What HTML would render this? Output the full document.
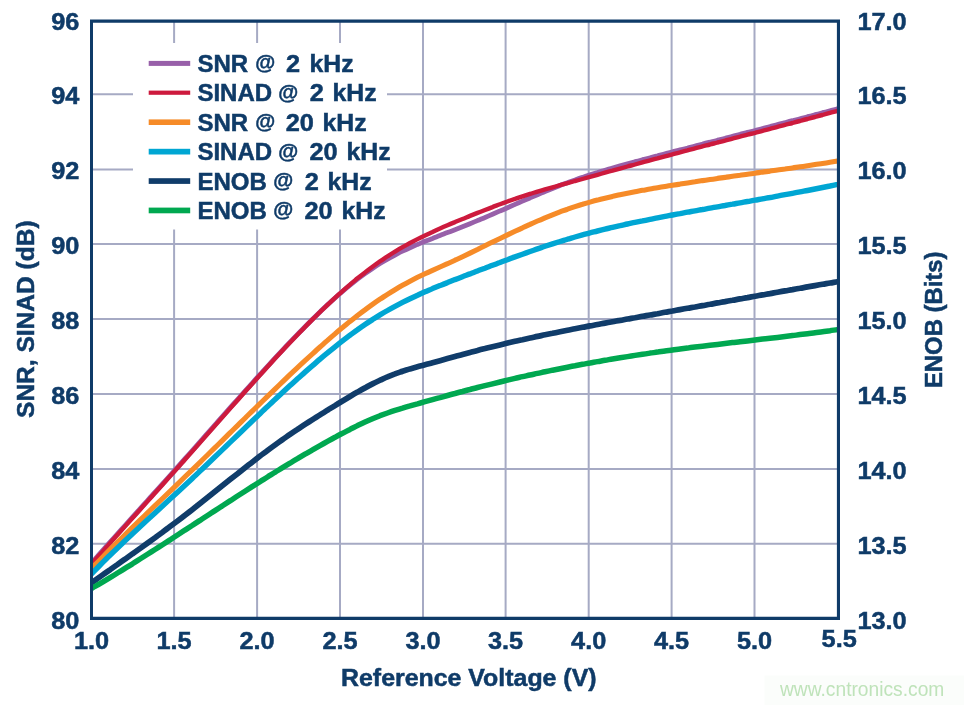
<!DOCTYPE html>
<html lang="en"><head><meta charset="utf-8"><title>SNR, SINAD and ENOB vs Reference Voltage</title>
<style>html,body{margin:0;padding:0;background:#fff}body{width:964px;height:705px;overflow:hidden}svg{display:block}text{font-family:"Liberation Sans",Arial,Helvetica,sans-serif;font-weight:bold;fill:#0f3b68;stroke:#0f3b68;stroke-width:0.5px}</style></head><body>
<svg width="964" height="705" viewBox="0 0 964 705">
<rect width="964" height="705" fill="#fff"/>
<path d="M174.1 21V618.4M257.1 21V618.4M340.0 21V618.4M423.0 21V618.4M505.6 21V618.4M588.7 21V618.4M671.6 21V618.4M754.5 21V618.4M91.5 94.2H838.5M91.5 169.4H838.5M91.5 244.1H838.5M91.5 319.1H838.5M91.5 393.9H838.5M91.5 469.0H838.5M91.5 543.8H838.5" stroke="#a6aac4" stroke-width="2" fill="none"/>
<rect x="133" y="43" width="254" height="186.5" fill="#fff"/>
<clipPath id="c"><rect x="91.5" y="21" width="747" height="597.4"/></clipPath>
<g clip-path="url(#c)" fill="none" stroke-linejoin="round">
<path d="M90.0 564.7 C91.7 562.8 93.3 560.9 95.0 559.1 C97.5 556.2 100.0 553.4 102.5 550.6 C105.0 547.8 107.5 545.0 110.0 542.2 C112.5 539.4 115.0 536.6 117.5 533.8 C120.0 531.0 122.5 528.3 125.0 525.5 C127.5 522.7 130.0 519.9 132.5 517.1 C135.0 514.4 137.5 511.6 140.0 508.8 C142.5 506.0 145.0 503.3 147.5 500.5 C150.0 497.7 152.5 494.9 155.0 492.2 C157.5 489.4 160.0 486.6 162.5 483.8 C165.0 481.1 167.5 478.3 170.0 475.5 C172.5 472.7 175.0 469.9 177.5 467.1 C180.0 464.3 182.5 461.5 185.0 458.7 C187.5 455.9 190.0 453.1 192.5 450.3 C195.0 447.5 197.5 444.6 200.0 441.8 C202.5 439.0 205.0 436.2 207.5 433.3 C210.0 430.5 212.5 427.7 215.0 424.9 C217.5 422.0 220.0 419.2 222.5 416.4 C225.0 413.6 227.5 410.7 230.0 407.9 C232.5 405.1 235.0 402.3 237.5 399.5 C240.0 396.7 242.5 393.9 245.0 391.1 C247.5 388.3 250.0 385.5 252.5 382.8 C255.0 380.0 257.5 377.2 260.0 374.5 C262.5 371.7 265.0 369.0 267.5 366.3 C270.0 363.5 272.5 360.8 275.0 358.1 C277.5 355.4 280.0 352.8 282.5 350.1 C285.0 347.4 287.5 344.8 290.0 342.2 C292.5 339.5 295.0 336.9 297.5 334.4 C300.0 331.8 302.5 329.2 305.0 326.7 C307.5 324.2 310.0 321.7 312.5 319.2 C315.0 316.7 317.5 314.3 320.0 311.9 C322.5 309.5 325.0 307.2 327.5 304.8 C330.0 302.5 332.5 300.2 335.0 298.0 C337.5 295.8 340.0 293.6 342.5 291.5 C345.0 289.3 347.5 287.2 350.0 285.2 C352.5 283.2 355.0 281.2 357.5 279.2 C360.0 277.3 362.5 275.4 365.0 273.6 C367.5 271.8 370.0 270.1 372.5 268.4 C375.0 266.7 377.5 265.1 380.0 263.5 C382.5 262.0 385.0 260.5 387.5 259.1 C390.0 257.6 392.5 256.3 395.0 255.0 C397.5 253.7 400.0 252.4 402.5 251.2 C405.0 250.0 407.5 248.8 410.0 247.7 C412.5 246.6 415.0 245.5 417.5 244.4 C420.0 243.4 422.5 242.3 425.0 241.3 C427.5 240.3 430.0 239.3 432.5 238.4 C435.0 237.4 437.5 236.5 440.0 235.5 C442.5 234.5 445.0 233.6 447.5 232.6 C450.0 231.7 452.5 230.7 455.0 229.7 C457.5 228.8 460.0 227.8 462.5 226.8 C465.0 225.8 467.5 224.8 470.0 223.7 C472.5 222.7 475.0 221.7 477.5 220.6 C480.0 219.6 482.5 218.5 485.0 217.5 C487.5 216.4 490.0 215.3 492.5 214.2 C495.0 213.1 497.5 212.0 500.0 210.9 C502.5 209.9 505.0 208.8 507.5 207.7 C510.0 206.6 512.5 205.5 515.0 204.4 C517.5 203.3 520.0 202.2 522.5 201.1 C525.0 200.0 527.5 198.9 530.0 197.9 C532.5 196.8 535.0 195.7 537.5 194.7 C540.0 193.6 542.5 192.6 545.0 191.5 C547.5 190.5 550.0 189.5 552.5 188.5 C555.0 187.5 557.5 186.5 560.0 185.5 C562.5 184.6 565.0 183.6 567.5 182.7 C570.0 181.8 572.5 180.8 575.0 180.0 C577.5 179.1 580.0 178.2 582.5 177.4 C585.0 176.5 587.5 175.7 590.0 174.9 C592.5 174.1 595.0 173.3 597.5 172.5 C600.0 171.7 602.5 171.0 605.0 170.2 C607.5 169.5 610.0 168.7 612.5 168.0 C615.0 167.3 617.5 166.6 620.0 165.9 C622.5 165.2 625.0 164.5 627.5 163.8 C630.0 163.1 632.5 162.4 635.0 161.7 C637.5 161.1 640.0 160.4 642.5 159.7 C645.0 159.1 647.5 158.4 650.0 157.8 C652.5 157.1 655.0 156.4 657.5 155.8 C660.0 155.1 662.5 154.5 665.0 153.8 C667.5 153.2 670.0 152.5 672.5 151.9 C675.0 151.2 677.5 150.6 680.0 149.9 C682.5 149.3 685.0 148.6 687.5 148.0 C690.0 147.3 692.5 146.7 695.0 146.0 C697.5 145.4 700.0 144.7 702.5 144.1 C705.0 143.4 707.5 142.8 710.0 142.2 C712.5 141.5 715.0 140.9 717.5 140.2 C720.0 139.6 722.5 138.9 725.0 138.3 C727.5 137.6 730.0 137.0 732.5 136.3 C735.0 135.7 737.5 135.0 740.0 134.4 C742.5 133.7 745.0 133.1 747.5 132.4 C750.0 131.8 752.5 131.1 755.0 130.5 C757.5 129.8 760.0 129.2 762.5 128.5 C765.0 127.9 767.5 127.2 770.0 126.6 C772.5 125.9 775.0 125.3 777.5 124.6 C780.0 124.0 782.5 123.3 785.0 122.7 C787.5 122.0 790.0 121.3 792.5 120.7 C795.0 120.0 797.5 119.4 800.0 118.7 C802.5 118.0 805.0 117.4 807.5 116.7 C810.0 116.1 812.5 115.4 815.0 114.7 C817.5 114.1 820.0 113.4 822.5 112.7 C825.0 112.1 827.5 111.4 830.0 110.7 C832.5 110.0 835.0 109.4 837.5 108.7 C838.3 108.5 839.2 108.2 840.0 108.0" stroke="#9860a9" stroke-width="4.8"/>
<path d="M90.0 565.7 C91.7 563.8 93.3 561.9 95.0 560.0 C97.5 557.2 100.0 554.4 102.5 551.6 C105.0 548.8 107.5 545.9 110.0 543.1 C112.5 540.3 115.0 537.5 117.5 534.8 C120.0 532.0 122.5 529.2 125.0 526.4 C127.5 523.6 130.0 520.8 132.5 518.0 C135.0 515.3 137.5 512.5 140.0 509.7 C142.5 506.9 145.0 504.2 147.5 501.4 C150.0 498.6 152.5 495.8 155.0 493.0 C157.5 490.3 160.0 487.5 162.5 484.7 C165.0 481.9 167.5 479.1 170.0 476.3 C172.5 473.6 175.0 470.8 177.5 468.0 C180.0 465.2 182.5 462.4 185.0 459.5 C187.5 456.7 190.0 453.9 192.5 451.1 C195.0 448.3 197.5 445.4 200.0 442.6 C202.5 439.8 205.0 436.9 207.5 434.1 C210.0 431.3 212.5 428.4 215.0 425.6 C217.5 422.8 220.0 419.9 222.5 417.1 C225.0 414.3 227.5 411.4 230.0 408.6 C232.5 405.8 235.0 403.0 237.5 400.2 C240.0 397.3 242.5 394.5 245.0 391.7 C247.5 388.9 250.0 386.1 252.5 383.4 C255.0 380.6 257.5 377.8 260.0 375.0 C262.5 372.3 265.0 369.5 267.5 366.8 C270.0 364.1 272.5 361.3 275.0 358.6 C277.5 355.9 280.0 353.2 282.5 350.5 C285.0 347.9 287.5 345.2 290.0 342.6 C292.5 339.9 295.0 337.3 297.5 334.7 C300.0 332.1 302.5 329.5 305.0 327.0 C307.5 324.4 310.0 321.9 312.5 319.4 C315.0 316.9 317.5 314.5 320.0 312.0 C322.5 309.6 325.0 307.2 327.5 304.8 C330.0 302.5 332.5 300.1 335.0 297.8 C337.5 295.6 340.0 293.3 342.5 291.1 C345.0 288.9 347.5 286.7 350.0 284.6 C352.5 282.4 355.0 280.4 357.5 278.3 C360.0 276.3 362.5 274.3 365.0 272.4 C367.5 270.4 370.0 268.5 372.5 266.7 C375.0 264.9 377.5 263.1 380.0 261.3 C382.5 259.6 385.0 258.0 387.5 256.3 C390.0 254.7 392.5 253.1 395.0 251.6 C397.5 250.1 400.0 248.6 402.5 247.2 C405.0 245.8 407.5 244.4 410.0 243.0 C412.5 241.7 415.0 240.4 417.5 239.1 C420.0 237.8 422.5 236.6 425.0 235.4 C427.5 234.2 430.0 233.0 432.5 231.9 C435.0 230.7 437.5 229.6 440.0 228.5 C442.5 227.4 445.0 226.3 447.5 225.2 C450.0 224.1 452.5 223.1 455.0 222.1 C457.5 221.0 460.0 220.0 462.5 219.0 C465.0 218.0 467.5 216.9 470.0 215.9 C472.5 214.9 475.0 213.9 477.5 212.9 C480.0 212.0 482.5 211.0 485.0 210.0 C487.5 209.0 490.0 208.0 492.5 207.1 C495.0 206.1 497.5 205.2 500.0 204.2 C502.5 203.3 505.0 202.4 507.5 201.5 C510.0 200.6 512.5 199.7 515.0 198.9 C517.5 198.0 520.0 197.1 522.5 196.3 C525.0 195.5 527.5 194.7 530.0 193.9 C532.5 193.1 535.0 192.4 537.5 191.6 C540.0 190.9 542.5 190.2 545.0 189.4 C547.5 188.7 550.0 188.0 552.5 187.3 C555.0 186.6 557.5 185.9 560.0 185.2 C562.5 184.5 565.0 183.8 567.5 183.1 C570.0 182.4 572.5 181.7 575.0 181.0 C577.5 180.4 580.0 179.7 582.5 179.0 C585.0 178.3 587.5 177.6 590.0 176.9 C592.5 176.2 595.0 175.5 597.5 174.8 C600.0 174.1 602.5 173.4 605.0 172.7 C607.5 172.0 610.0 171.3 612.5 170.7 C615.0 170.0 617.5 169.3 620.0 168.6 C622.5 167.9 625.0 167.2 627.5 166.5 C630.0 165.8 632.5 165.2 635.0 164.5 C637.5 163.8 640.0 163.1 642.5 162.4 C645.0 161.7 647.5 161.1 650.0 160.4 C652.5 159.7 655.0 159.0 657.5 158.4 C660.0 157.7 662.5 157.0 665.0 156.3 C667.5 155.7 670.0 155.0 672.5 154.3 C675.0 153.7 677.5 153.0 680.0 152.4 C682.5 151.7 685.0 151.0 687.5 150.4 C690.0 149.7 692.5 149.1 695.0 148.4 C697.5 147.7 700.0 147.1 702.5 146.4 C705.0 145.8 707.5 145.1 710.0 144.5 C712.5 143.8 715.0 143.2 717.5 142.5 C720.0 141.9 722.5 141.2 725.0 140.6 C727.5 139.9 730.0 139.3 732.5 138.6 C735.0 138.0 737.5 137.3 740.0 136.7 C742.5 136.0 745.0 135.4 747.5 134.7 C750.0 134.1 752.5 133.4 755.0 132.8 C757.5 132.1 760.0 131.5 762.5 130.8 C765.0 130.2 767.5 129.5 770.0 128.9 C772.5 128.2 775.0 127.6 777.5 126.9 C780.0 126.2 782.5 125.6 785.0 124.9 C787.5 124.3 790.0 123.6 792.5 123.0 C795.0 122.3 797.5 121.6 800.0 121.0 C802.5 120.3 805.0 119.6 807.5 119.0 C810.0 118.3 812.5 117.6 815.0 117.0 C817.5 116.3 820.0 115.6 822.5 115.0 C825.0 114.3 827.5 113.6 830.0 112.9 C832.5 112.2 835.0 111.6 837.5 110.9 C838.3 110.7 839.2 110.4 840.0 110.2" stroke="#cd1a3d" stroke-width="4.4"/>
<path d="M90.0 570.0 C91.7 568.3 93.3 566.6 95.0 564.9 C97.5 562.3 100.0 559.7 102.5 557.2 C105.0 554.6 107.5 552.1 110.0 549.6 C112.5 547.1 115.0 544.6 117.5 542.1 C120.0 539.7 122.5 537.2 125.0 534.7 C127.5 532.3 130.0 529.8 132.5 527.4 C135.0 525.0 137.5 522.6 140.0 520.1 C142.5 517.7 145.0 515.3 147.5 512.9 C150.0 510.5 152.5 508.1 155.0 505.7 C157.5 503.3 160.0 500.9 162.5 498.5 C165.0 496.1 167.5 493.7 170.0 491.3 C172.5 488.9 175.0 486.5 177.5 484.1 C180.0 481.7 182.5 479.3 185.0 476.8 C187.5 474.4 190.0 472.0 192.5 469.6 C195.0 467.1 197.5 464.7 200.0 462.3 C202.5 459.8 205.0 457.4 207.5 455.0 C210.0 452.5 212.5 450.1 215.0 447.6 C217.5 445.2 220.0 442.7 222.5 440.3 C225.0 437.8 227.5 435.4 230.0 432.9 C232.5 430.5 235.0 428.0 237.5 425.6 C240.0 423.1 242.5 420.7 245.0 418.2 C247.5 415.8 250.0 413.3 252.5 410.9 C255.0 408.5 257.5 406.0 260.0 403.6 C262.5 401.2 265.0 398.7 267.5 396.3 C270.0 393.9 272.5 391.5 275.0 389.1 C277.5 386.7 280.0 384.3 282.5 381.9 C285.0 379.5 287.5 377.1 290.0 374.7 C292.5 372.4 295.0 370.0 297.5 367.7 C300.0 365.3 302.5 363.0 305.0 360.7 C307.5 358.3 310.0 356.0 312.5 353.8 C315.0 351.5 317.5 349.2 320.0 347.0 C322.5 344.8 325.0 342.5 327.5 340.4 C330.0 338.2 332.5 336.0 335.0 333.9 C337.5 331.7 340.0 329.6 342.5 327.6 C345.0 325.5 347.5 323.5 350.0 321.4 C352.5 319.4 355.0 317.5 357.5 315.5 C360.0 313.6 362.5 311.7 365.0 309.9 C367.5 308.0 370.0 306.2 372.5 304.4 C375.0 302.6 377.5 300.9 380.0 299.2 C382.5 297.6 385.0 295.9 387.5 294.3 C390.0 292.7 392.5 291.2 395.0 289.7 C397.5 288.2 400.0 286.7 402.5 285.3 C405.0 283.9 407.5 282.5 410.0 281.2 C412.5 279.9 415.0 278.6 417.5 277.3 C420.0 276.1 422.5 274.9 425.0 273.7 C427.5 272.5 430.0 271.4 432.5 270.3 C435.0 269.2 437.5 268.1 440.0 267.0 C442.5 265.9 445.0 264.8 447.5 263.7 C450.0 262.5 452.5 261.4 455.0 260.2 C457.5 259.1 460.0 257.9 462.5 256.7 C465.0 255.5 467.5 254.3 470.0 253.1 C472.5 251.9 475.0 250.7 477.5 249.5 C480.0 248.2 482.5 247.0 485.0 245.8 C487.5 244.6 490.0 243.4 492.5 242.1 C495.0 240.9 497.5 239.7 500.0 238.5 C502.5 237.3 505.0 236.1 507.5 234.9 C510.0 233.7 512.5 232.5 515.0 231.3 C517.5 230.1 520.0 228.9 522.5 227.8 C525.0 226.6 527.5 225.5 530.0 224.4 C532.5 223.2 535.0 222.1 537.5 221.0 C540.0 220.0 542.5 218.9 545.0 217.8 C547.5 216.8 550.0 215.8 552.5 214.8 C555.0 213.8 557.5 212.8 560.0 211.9 C562.5 211.0 565.0 210.0 567.5 209.2 C570.0 208.3 572.5 207.4 575.0 206.6 C577.5 205.8 580.0 205.0 582.5 204.3 C585.0 203.5 587.5 202.8 590.0 202.1 C592.5 201.4 595.0 200.7 597.5 200.1 C600.0 199.4 602.5 198.8 605.0 198.2 C607.5 197.6 610.0 197.0 612.5 196.4 C615.0 195.8 617.5 195.3 620.0 194.7 C622.5 194.2 625.0 193.7 627.5 193.2 C630.0 192.7 632.5 192.2 635.0 191.7 C637.5 191.2 640.0 190.8 642.5 190.3 C645.0 189.9 647.5 189.4 650.0 189.0 C652.5 188.6 655.0 188.1 657.5 187.7 C660.0 187.3 662.5 186.9 665.0 186.5 C667.5 186.1 670.0 185.6 672.5 185.2 C675.0 184.8 677.5 184.4 680.0 184.1 C682.5 183.7 685.0 183.3 687.5 182.9 C690.0 182.5 692.5 182.1 695.0 181.8 C697.5 181.4 700.0 181.0 702.5 180.6 C705.0 180.3 707.5 179.9 710.0 179.5 C712.5 179.2 715.0 178.8 717.5 178.4 C720.0 178.1 722.5 177.7 725.0 177.4 C727.5 177.0 730.0 176.7 732.5 176.3 C735.0 176.0 737.5 175.6 740.0 175.3 C742.5 174.9 745.0 174.6 747.5 174.2 C750.0 173.9 752.5 173.5 755.0 173.2 C757.5 172.8 760.0 172.5 762.5 172.1 C765.0 171.8 767.5 171.4 770.0 171.1 C772.5 170.7 775.0 170.4 777.5 170.0 C780.0 169.7 782.5 169.3 785.0 169.0 C787.5 168.6 790.0 168.3 792.5 167.9 C795.0 167.5 797.5 167.2 800.0 166.8 C802.5 166.5 805.0 166.1 807.5 165.7 C810.0 165.4 812.5 165.0 815.0 164.6 C817.5 164.2 820.0 163.9 822.5 163.5 C825.0 163.1 827.5 162.7 830.0 162.3 C832.5 161.9 835.0 161.5 837.5 161.1 C838.3 161.0 839.2 160.9 840.0 160.7" stroke="#f68b28" stroke-width="5.1"/>
<path d="M90.0 575.5 C91.7 573.8 93.3 572.0 95.0 570.3 C97.5 567.8 100.0 565.2 102.5 562.7 C105.0 560.2 107.5 557.7 110.0 555.3 C112.5 552.8 115.0 550.4 117.5 548.0 C120.0 545.5 122.5 543.2 125.0 540.8 C127.5 538.4 130.0 536.1 132.5 533.7 C135.0 531.4 137.5 529.0 140.0 526.7 C142.5 524.4 145.0 522.1 147.5 519.8 C150.0 517.5 152.5 515.2 155.0 512.9 C157.5 510.6 160.0 508.3 162.5 506.0 C165.0 503.7 167.5 501.4 170.0 499.1 C172.5 496.8 175.0 494.5 177.5 492.2 C180.0 489.9 182.5 487.6 185.0 485.3 C187.5 482.9 190.0 480.6 192.5 478.2 C195.0 475.9 197.5 473.5 200.0 471.1 C202.5 468.8 205.0 466.4 207.5 464.0 C210.0 461.6 212.5 459.2 215.0 456.8 C217.5 454.4 220.0 452.0 222.5 449.6 C225.0 447.2 227.5 444.8 230.0 442.4 C232.5 440.0 235.0 437.6 237.5 435.2 C240.0 432.8 242.5 430.4 245.0 428.0 C247.5 425.6 250.0 423.2 252.5 420.8 C255.0 418.4 257.5 416.0 260.0 413.7 C262.5 411.3 265.0 408.9 267.5 406.6 C270.0 404.2 272.5 401.8 275.0 399.5 C277.5 397.2 280.0 394.8 282.5 392.5 C285.0 390.2 287.5 387.9 290.0 385.6 C292.5 383.3 295.0 381.1 297.5 378.8 C300.0 376.6 302.5 374.3 305.0 372.1 C307.5 369.9 310.0 367.7 312.5 365.6 C315.0 363.4 317.5 361.3 320.0 359.1 C322.5 357.0 325.0 354.9 327.5 352.9 C330.0 350.8 332.5 348.8 335.0 346.8 C337.5 344.8 340.0 342.8 342.5 340.9 C345.0 339.0 347.5 337.1 350.0 335.2 C352.5 333.4 355.0 331.5 357.5 329.8 C360.0 328.0 362.5 326.2 365.0 324.5 C367.5 322.8 370.0 321.2 372.5 319.6 C375.0 318.0 377.5 316.4 380.0 314.9 C382.5 313.4 385.0 311.9 387.5 310.5 C390.0 309.0 392.5 307.6 395.0 306.3 C397.5 305.0 400.0 303.7 402.5 302.4 C405.0 301.1 407.5 299.9 410.0 298.7 C412.5 297.5 415.0 296.3 417.5 295.2 C420.0 294.0 422.5 292.9 425.0 291.8 C427.5 290.7 430.0 289.7 432.5 288.6 C435.0 287.6 437.5 286.6 440.0 285.6 C442.5 284.5 445.0 283.5 447.5 282.6 C450.0 281.6 452.5 280.6 455.0 279.6 C457.5 278.7 460.0 277.7 462.5 276.7 C465.0 275.8 467.5 274.8 470.0 273.9 C472.5 272.9 475.0 272.0 477.5 271.0 C480.0 270.1 482.5 269.1 485.0 268.2 C487.5 267.2 490.0 266.3 492.5 265.3 C495.0 264.4 497.5 263.4 500.0 262.5 C502.5 261.5 505.0 260.6 507.5 259.7 C510.0 258.7 512.5 257.8 515.0 256.9 C517.5 256.0 520.0 255.1 522.5 254.2 C525.0 253.3 527.5 252.4 530.0 251.5 C532.5 250.6 535.0 249.8 537.5 248.9 C540.0 248.0 542.5 247.2 545.0 246.3 C547.5 245.5 550.0 244.7 552.5 243.9 C555.0 243.1 557.5 242.3 560.0 241.5 C562.5 240.7 565.0 240.0 567.5 239.2 C570.0 238.5 572.5 237.7 575.0 237.0 C577.5 236.3 580.0 235.6 582.5 234.9 C585.0 234.2 587.5 233.6 590.0 232.9 C592.5 232.3 595.0 231.6 597.5 231.0 C600.0 230.4 602.5 229.8 605.0 229.1 C607.5 228.5 610.0 228.0 612.5 227.4 C615.0 226.8 617.5 226.2 620.0 225.7 C622.5 225.1 625.0 224.6 627.5 224.0 C630.0 223.5 632.5 222.9 635.0 222.4 C637.5 221.9 640.0 221.4 642.5 220.9 C645.0 220.3 647.5 219.8 650.0 219.3 C652.5 218.8 655.0 218.4 657.5 217.9 C660.0 217.4 662.5 216.9 665.0 216.4 C667.5 215.9 670.0 215.5 672.5 215.0 C675.0 214.5 677.5 214.0 680.0 213.6 C682.5 213.1 685.0 212.7 687.5 212.2 C690.0 211.7 692.5 211.3 695.0 210.8 C697.5 210.4 700.0 209.9 702.5 209.5 C705.0 209.0 707.5 208.6 710.0 208.1 C712.5 207.7 715.0 207.2 717.5 206.8 C720.0 206.4 722.5 205.9 725.0 205.5 C727.5 205.0 730.0 204.6 732.5 204.2 C735.0 203.7 737.5 203.3 740.0 202.8 C742.5 202.4 745.0 201.9 747.5 201.5 C750.0 201.1 752.5 200.6 755.0 200.2 C757.5 199.7 760.0 199.3 762.5 198.8 C765.0 198.4 767.5 197.9 770.0 197.5 C772.5 197.0 775.0 196.6 777.5 196.1 C780.0 195.7 782.5 195.2 785.0 194.7 C787.5 194.3 790.0 193.8 792.5 193.3 C795.0 192.9 797.5 192.4 800.0 191.9 C802.5 191.4 805.0 191.0 807.5 190.5 C810.0 190.0 812.5 189.5 815.0 189.0 C817.5 188.5 820.0 188.0 822.5 187.5 C825.0 187.0 827.5 186.5 830.0 186.0 C832.5 185.4 835.0 184.9 837.5 184.4 C838.3 184.2 839.2 184.0 840.0 183.8" stroke="#00a6d3" stroke-width="5.4"/>
<path d="M90.0 583.9 C91.7 582.7 93.3 581.5 95.0 580.3 C97.5 578.6 100.0 576.8 102.5 575.0 C105.0 573.3 107.5 571.5 110.0 569.8 C112.5 568.0 115.0 566.2 117.5 564.5 C120.0 562.7 122.5 560.9 125.0 559.2 C127.5 557.4 130.0 555.6 132.5 553.8 C135.0 552.1 137.5 550.3 140.0 548.5 C142.5 546.7 145.0 544.9 147.5 543.1 C150.0 541.3 152.5 539.5 155.0 537.7 C157.5 535.8 160.0 534.0 162.5 532.2 C165.0 530.3 167.5 528.5 170.0 526.6 C172.5 524.7 175.0 522.8 177.5 521.0 C180.0 519.1 182.5 517.2 185.0 515.2 C187.5 513.3 190.0 511.4 192.5 509.4 C195.0 507.5 197.5 505.5 200.0 503.5 C202.5 501.5 205.0 499.6 207.5 497.6 C210.0 495.6 212.5 493.6 215.0 491.6 C217.5 489.6 220.0 487.6 222.5 485.6 C225.0 483.6 227.5 481.6 230.0 479.6 C232.5 477.6 235.0 475.6 237.5 473.7 C240.0 471.7 242.5 469.7 245.0 467.7 C247.5 465.8 250.0 463.8 252.5 461.9 C255.0 460.0 257.5 458.0 260.0 456.1 C262.5 454.2 265.0 452.4 267.5 450.5 C270.0 448.6 272.5 446.8 275.0 445.0 C277.5 443.2 280.0 441.4 282.5 439.6 C285.0 437.9 287.5 436.1 290.0 434.4 C292.5 432.7 295.0 431.0 297.5 429.4 C300.0 427.7 302.5 426.1 305.0 424.4 C307.5 422.8 310.0 421.2 312.5 419.6 C315.0 418.0 317.5 416.5 320.0 414.9 C322.5 413.3 325.0 411.8 327.5 410.2 C330.0 408.7 332.5 407.1 335.0 405.6 C337.5 404.0 340.0 402.5 342.5 401.0 C345.0 399.5 347.5 398.0 350.0 396.5 C352.5 395.0 355.0 393.5 357.5 392.1 C360.0 390.6 362.5 389.2 365.0 387.9 C367.5 386.5 370.0 385.2 372.5 383.9 C375.0 382.6 377.5 381.4 380.0 380.2 C382.5 379.1 385.0 377.9 387.5 376.9 C390.0 375.8 392.5 374.8 395.0 373.9 C397.5 372.9 400.0 372.1 402.5 371.2 C405.0 370.4 407.5 369.7 410.0 368.9 C412.5 368.2 415.0 367.5 417.5 366.8 C420.0 366.1 422.5 365.5 425.0 364.8 C427.5 364.1 430.0 363.5 432.5 362.8 C435.0 362.1 437.5 361.4 440.0 360.7 C442.5 360.0 445.0 359.3 447.5 358.6 C450.0 357.9 452.5 357.2 455.0 356.5 C457.5 355.8 460.0 355.2 462.5 354.5 C465.0 353.8 467.5 353.1 470.0 352.4 C472.5 351.8 475.0 351.1 477.5 350.5 C480.0 349.8 482.5 349.2 485.0 348.6 C487.5 347.9 490.0 347.3 492.5 346.7 C495.0 346.1 497.5 345.5 500.0 344.9 C502.5 344.3 505.0 343.7 507.5 343.1 C510.0 342.5 512.5 341.9 515.0 341.3 C517.5 340.8 520.0 340.2 522.5 339.7 C525.0 339.1 527.5 338.5 530.0 338.0 C532.5 337.5 535.0 336.9 537.5 336.4 C540.0 335.9 542.5 335.3 545.0 334.8 C547.5 334.3 550.0 333.8 552.5 333.3 C555.0 332.7 557.5 332.2 560.0 331.7 C562.5 331.2 565.0 330.7 567.5 330.2 C570.0 329.7 572.5 329.3 575.0 328.8 C577.5 328.3 580.0 327.8 582.5 327.3 C585.0 326.8 587.5 326.4 590.0 325.9 C592.5 325.4 595.0 325.0 597.5 324.5 C600.0 324.0 602.5 323.6 605.0 323.1 C607.5 322.7 610.0 322.2 612.5 321.7 C615.0 321.3 617.5 320.8 620.0 320.4 C622.5 319.9 625.0 319.5 627.5 319.0 C630.0 318.6 632.5 318.1 635.0 317.7 C637.5 317.2 640.0 316.8 642.5 316.3 C645.0 315.9 647.5 315.4 650.0 315.0 C652.5 314.6 655.0 314.1 657.5 313.7 C660.0 313.2 662.5 312.8 665.0 312.3 C667.5 311.9 670.0 311.4 672.5 311.0 C675.0 310.5 677.5 310.1 680.0 309.6 C682.5 309.2 685.0 308.8 687.5 308.3 C690.0 307.9 692.5 307.4 695.0 307.0 C697.5 306.5 700.0 306.1 702.5 305.6 C705.0 305.2 707.5 304.7 710.0 304.3 C712.5 303.8 715.0 303.4 717.5 302.9 C720.0 302.5 722.5 302.0 725.0 301.6 C727.5 301.1 730.0 300.7 732.5 300.3 C735.0 299.8 737.5 299.4 740.0 298.9 C742.5 298.5 745.0 298.0 747.5 297.6 C750.0 297.1 752.5 296.7 755.0 296.2 C757.5 295.8 760.0 295.3 762.5 294.9 C765.0 294.5 767.5 294.0 770.0 293.6 C772.5 293.1 775.0 292.7 777.5 292.2 C780.0 291.8 782.5 291.4 785.0 290.9 C787.5 290.5 790.0 290.0 792.5 289.6 C795.0 289.1 797.5 288.7 800.0 288.3 C802.5 287.8 805.0 287.4 807.5 286.9 C810.0 286.5 812.5 286.1 815.0 285.6 C817.5 285.2 820.0 284.8 822.5 284.3 C825.0 283.9 827.5 283.4 830.0 283.0 C832.5 282.6 835.0 282.1 837.5 281.7 C838.3 281.6 839.2 281.4 840.0 281.3" stroke="#103c6a" stroke-width="5.7"/>
<path d="M90.0 589.5 C91.7 588.5 93.3 587.5 95.0 586.5 C97.5 585.1 100.0 583.6 102.5 582.1 C105.0 580.6 107.5 579.1 110.0 577.6 C112.5 576.1 115.0 574.6 117.5 573.0 C120.0 571.5 122.5 570.0 125.0 568.4 C127.5 566.9 130.0 565.3 132.5 563.8 C135.0 562.2 137.5 560.6 140.0 559.0 C142.5 557.5 145.0 555.9 147.5 554.3 C150.0 552.7 152.5 551.1 155.0 549.5 C157.5 547.9 160.0 546.3 162.5 544.7 C165.0 543.1 167.5 541.5 170.0 539.9 C172.5 538.2 175.0 536.6 177.5 535.0 C180.0 533.4 182.5 531.8 185.0 530.1 C187.5 528.5 190.0 526.9 192.5 525.3 C195.0 523.6 197.5 522.0 200.0 520.4 C202.5 518.7 205.0 517.1 207.5 515.5 C210.0 513.9 212.5 512.2 215.0 510.6 C217.5 509.0 220.0 507.4 222.5 505.7 C225.0 504.1 227.5 502.5 230.0 500.9 C232.5 499.3 235.0 497.6 237.5 496.0 C240.0 494.4 242.5 492.8 245.0 491.2 C247.5 489.6 250.0 488.0 252.5 486.4 C255.0 484.9 257.5 483.3 260.0 481.7 C262.5 480.1 265.0 478.6 267.5 477.0 C270.0 475.4 272.5 473.9 275.0 472.3 C277.5 470.8 280.0 469.2 282.5 467.7 C285.0 466.2 287.5 464.7 290.0 463.2 C292.5 461.6 295.0 460.1 297.5 458.7 C300.0 457.2 302.5 455.7 305.0 454.2 C307.5 452.8 310.0 451.3 312.5 449.9 C315.0 448.4 317.5 447.0 320.0 445.6 C322.5 444.2 325.0 442.8 327.5 441.4 C330.0 440.0 332.5 438.6 335.0 437.3 C337.5 435.9 340.0 434.6 342.5 433.3 C345.0 431.9 347.5 430.6 350.0 429.4 C352.5 428.1 355.0 426.9 357.5 425.6 C360.0 424.4 362.5 423.2 365.0 422.1 C367.5 421.0 370.0 419.9 372.5 418.8 C375.0 417.7 377.5 416.7 380.0 415.7 C382.5 414.8 385.0 413.9 387.5 413.0 C390.0 412.1 392.5 411.2 395.0 410.4 C397.5 409.6 400.0 408.8 402.5 408.1 C405.0 407.3 407.5 406.6 410.0 405.9 C412.5 405.1 415.0 404.4 417.5 403.8 C420.0 403.1 422.5 402.4 425.0 401.7 C427.5 401.0 430.0 400.3 432.5 399.6 C435.0 398.9 437.5 398.2 440.0 397.6 C442.5 396.9 445.0 396.2 447.5 395.5 C450.0 394.8 452.5 394.1 455.0 393.5 C457.5 392.8 460.0 392.1 462.5 391.5 C465.0 390.8 467.5 390.1 470.0 389.5 C472.5 388.8 475.0 388.2 477.5 387.5 C480.0 386.9 482.5 386.3 485.0 385.6 C487.5 385.0 490.0 384.4 492.5 383.8 C495.0 383.2 497.5 382.6 500.0 382.0 C502.5 381.3 505.0 380.8 507.5 380.2 C510.0 379.6 512.5 379.0 515.0 378.4 C517.5 377.8 520.0 377.3 522.5 376.7 C525.0 376.1 527.5 375.6 530.0 375.0 C532.5 374.5 535.0 373.9 537.5 373.4 C540.0 372.9 542.5 372.3 545.0 371.8 C547.5 371.3 550.0 370.8 552.5 370.2 C555.0 369.7 557.5 369.2 560.0 368.7 C562.5 368.2 565.0 367.7 567.5 367.2 C570.0 366.7 572.5 366.2 575.0 365.8 C577.5 365.3 580.0 364.8 582.5 364.3 C585.0 363.9 587.5 363.4 590.0 363.0 C592.5 362.5 595.0 362.1 597.5 361.6 C600.0 361.2 602.5 360.7 605.0 360.3 C607.5 359.9 610.0 359.4 612.5 359.0 C615.0 358.6 617.5 358.2 620.0 357.8 C622.5 357.4 625.0 357.0 627.5 356.6 C630.0 356.2 632.5 355.8 635.0 355.4 C637.5 355.0 640.0 354.6 642.5 354.2 C645.0 353.9 647.5 353.5 650.0 353.1 C652.5 352.8 655.0 352.4 657.5 352.1 C660.0 351.7 662.5 351.4 665.0 351.0 C667.5 350.7 670.0 350.3 672.5 350.0 C675.0 349.7 677.5 349.3 680.0 349.0 C682.5 348.7 685.0 348.4 687.5 348.1 C690.0 347.7 692.5 347.4 695.0 347.1 C697.5 346.8 700.0 346.5 702.5 346.2 C705.0 345.9 707.5 345.6 710.0 345.3 C712.5 345.0 715.0 344.7 717.5 344.4 C720.0 344.1 722.5 343.8 725.0 343.5 C727.5 343.2 730.0 342.9 732.5 342.6 C735.0 342.3 737.5 342.1 740.0 341.8 C742.5 341.5 745.0 341.2 747.5 340.9 C750.0 340.6 752.5 340.3 755.0 340.0 C757.5 339.7 760.0 339.4 762.5 339.1 C765.0 338.9 767.5 338.6 770.0 338.3 C772.5 338.0 775.0 337.7 777.5 337.4 C780.0 337.1 782.5 336.8 785.0 336.5 C787.5 336.2 790.0 335.9 792.5 335.6 C795.0 335.3 797.5 334.9 800.0 334.6 C802.5 334.3 805.0 334.0 807.5 333.7 C810.0 333.4 812.5 333.0 815.0 332.7 C817.5 332.4 820.0 332.0 822.5 331.7 C825.0 331.4 827.5 331.0 830.0 330.7 C832.5 330.3 835.0 330.0 837.5 329.6 C838.3 329.5 839.2 329.4 840.0 329.2" stroke="#00a850" stroke-width="5.5"/>
</g>
<path d="M90 19.4H840V620.1H90Z M93 22.8V616.7H836.9V22.8Z" fill="#0f3b68" fill-rule="evenodd"/>
<rect x="148.7" y="60.9" width="41.5" height="5.0" fill="#9860a9"/>
<rect x="148.7" y="90.6" width="41.5" height="4.2" fill="#cd1a3d"/>
<rect x="148.7" y="119.4" width="41.5" height="5.6" fill="#f68b28"/>
<rect x="148.7" y="148.8" width="41.5" height="5.7" fill="#00a6d3"/>
<rect x="148.7" y="178.2" width="41.5" height="5.7" fill="#103c6a"/>
<rect x="148.7" y="207.6" width="41.5" height="5.7" fill="#00a850"/>
<g font-size="24">
<text x="197.4" y="71.9">SNR</text><text x="255.3" y="69.4" font-size="20.5">@</text><text transform="translate(286.1 71.9) scale(1.055 1)">2</text><text transform="translate(309.5 71.9) scale(1.035 1)">kHz</text>
<text x="197.4" y="101.2">SINAD</text><text x="278.2" y="98.7" font-size="20.5">@</text><text transform="translate(309.8 101.2) scale(1.055 1)">2</text><text transform="translate(332.5 101.2) scale(1.035 1)">kHz</text>
<text x="197.4" y="130.7">SNR</text><text x="255.3" y="128.2" font-size="20.5">@</text><text transform="translate(285.8 130.7) scale(1.055 1)">20</text><text transform="translate(322.5 130.7) scale(1.035 1)">kHz</text>
<text x="197.4" y="160.1">SINAD</text><text x="278.2" y="157.6" font-size="20.5">@</text><text transform="translate(309.5 160.1) scale(1.055 1)">20</text><text transform="translate(346.5 160.1) scale(1.035 1)">kHz</text>
<text x="197.4" y="189.5">ENOB</text><text x="273.2" y="187.0" font-size="20.5">@</text><text transform="translate(304.7 189.5) scale(1.055 1)">2</text><text transform="translate(327.5 189.5) scale(1.035 1)">kHz</text>
<text x="197.4" y="218.9">ENOB</text><text x="273.2" y="216.4" font-size="20.5">@</text><text transform="translate(304.5 218.9) scale(1.055 1)">20</text><text transform="translate(341.5 218.9) scale(1.035 1)">kHz</text>
</g>
<g font-size="24">
<text transform="translate(79.4 29.5) scale(1.055 1)" text-anchor="end">96</text>
<text transform="translate(79.4 104.4) scale(1.055 1)" text-anchor="end">94</text>
<text transform="translate(79.4 179.3) scale(1.055 1)" text-anchor="end">92</text>
<text transform="translate(79.4 254.2) scale(1.055 1)" text-anchor="end">90</text>
<text transform="translate(79.4 329.1) scale(1.055 1)" text-anchor="end">88</text>
<text transform="translate(79.4 404.0) scale(1.055 1)" text-anchor="end">86</text>
<text transform="translate(79.4 478.9) scale(1.055 1)" text-anchor="end">84</text>
<text transform="translate(79.4 553.8) scale(1.055 1)" text-anchor="end">82</text>
<text transform="translate(79.4 628.7) scale(1.055 1)" text-anchor="end">80</text>
<text transform="translate(857.4 29.5) scale(1.055 1)">17.0</text>
<text transform="translate(857.4 104.4) scale(1.055 1)">16.5</text>
<text transform="translate(857.4 179.3) scale(1.055 1)">16.0</text>
<text transform="translate(857.4 254.2) scale(1.055 1)">15.5</text>
<text transform="translate(857.4 329.1) scale(1.055 1)">15.0</text>
<text transform="translate(857.4 404.0) scale(1.055 1)">14.5</text>
<text transform="translate(857.4 478.9) scale(1.055 1)">14.0</text>
<text transform="translate(857.4 553.8) scale(1.055 1)">13.5</text>
<text transform="translate(857.4 628.7) scale(1.055 1)">13.0</text>
<text transform="translate(91.5 649.2) scale(1.055 1)" text-anchor="middle">1.0</text>
<text transform="translate(174.1 649.2) scale(1.055 1)" text-anchor="middle">1.5</text>
<text transform="translate(257.1 649.2) scale(1.055 1)" text-anchor="middle">2.0</text>
<text transform="translate(340.0 649.2) scale(1.055 1)" text-anchor="middle">2.5</text>
<text transform="translate(423.0 649.2) scale(1.055 1)" text-anchor="middle">3.0</text>
<text transform="translate(505.6 649.2) scale(1.055 1)" text-anchor="middle">3.5</text>
<text transform="translate(588.7 649.2) scale(1.055 1)" text-anchor="middle">4.0</text>
<text transform="translate(671.6 649.2) scale(1.055 1)" text-anchor="middle">4.5</text>
<text transform="translate(754.5 649.2) scale(1.055 1)" text-anchor="middle">5.0</text>
<text transform="translate(839.2 646.8) scale(1.055 1)" text-anchor="middle">5.5</text>
</g>
<text x="468.8" y="686.3" font-size="24" text-anchor="middle" textLength="255.5" lengthAdjust="spacingAndGlyphs">Reference Voltage (V)</text>
<text transform="translate(34 319.2) rotate(-90)" font-size="24" text-anchor="middle" textLength="197.5" lengthAdjust="spacingAndGlyphs">SNR, SINAD (dB)</text>
<text transform="translate(941.5 319.8) rotate(-90)" font-size="24" text-anchor="middle" textLength="136.5" lengthAdjust="spacingAndGlyphs">ENOB (Bits)</text>
<rect x="764.5" y="675.5" width="199.5" height="29.5" fill="#fbfdfb"/>
<text x="780" y="696" font-size="19.5" style="font-weight:normal;fill:#bfe3ba;stroke:none" textLength="164.3" lengthAdjust="spacingAndGlyphs">www.cntronics.com</text>
</svg></body></html>
